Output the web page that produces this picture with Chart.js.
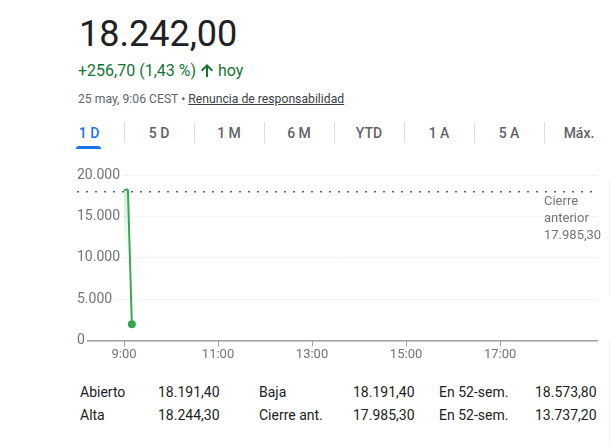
<!DOCTYPE html>
<html lang="es">
<head>
<meta charset="utf-8">
<script src="https://cdn.jsdelivr.net/npm/chart.js@4.4.1/dist/chart.umd.min.js"></script>
<style>
    body { margin: 0; width: 611px; height: 446px; background: #fff; font-family: Roboto, Arial, sans-serif; position: relative; overflow: hidden; }
    .abs { position: absolute; white-space: nowrap; }
    #price { left: 79px; top: 16px; font-size: 36px; line-height: 36px; color: #202124; }
    #change { left: 78px; top: 63px; font-size: 16px; line-height: 16px; color: #137333; }
    #change svg { vertical-align: -1px; margin: 0 5px 0 5px; }
    #date { left: 78px; top: 93px; font-size: 12.2px; line-height: 12px; color: #5f6368; }
    #date u { color: #3c4043; }
    .tab { top: 126px; width: 70px; text-align: center; font-size: 14px; line-height: 14px; font-weight: 500; color: #5f6368; }
    .tab.active { color: #1a73e8; }
    .sep { top: 122px; width: 1px; height: 21px; background: #dadce0; }
    #tabbar { left: 76px; top: 146px; width: 25px; height: 3px; background: #1a73e8; border-radius: 3px 3px 0 0; }
    #chart-wrap { position: absolute; left: 0; top: 160px; width: 611px; height: 210px; }
    #prev { left: 544px; top: 192px; font-size: 13px; line-height: 17px; color: #70757a; }
    .stat { font-size: 14px; line-height: 14px; color: #202124; }
    #edge1 { left: 609px; top: 180px; width: 1px; height: 116px; background: #f1f3f4; }
    #edge2 { left: 609px; top: 340px; width: 1px; height: 106px; background: #f1f3f4; }
</style>
</head>
<body>
<div class="abs" id="price">18.242,00</div>
<div class="abs" id="change">+256,70 (1,43 %)<svg width="12" height="13" viewBox="0 0 12 13"><path d="M6 0 L12 6 L10.6 7.4 L7 3.8 L7 13 L5 13 L5 3.8 L1.4 7.4 L0 6 Z" fill="#137333"/></svg>hoy</div>
<div class="abs" id="date">25 may, 9:06 CEST • <u>Renuncia de responsabilidad</u></div>
<div id="tabs"></div>
<div class="abs" id="tabbar"></div>
<div id="chart-wrap"><canvas id="chart"></canvas></div>
<div class="abs" id="prev">Cierre<br>anterior<br>17.985,30</div>
<div id="stats"></div>
<div class="abs" id="edge1"></div>
<div class="abs" id="edge2"></div>

<script>
// time in minutes since midnight
const times = [540, 542, 544, 545, 550];
const prices = [18191.4, 18230, 18244.3, 18242, 1950];
const previousClose = 17985.30;
const xTicks = [540, 660, 780, 900, 1020];
const yTicks = [0, 5000, 10000, 15000, 20000];
const ranges = ['1 D', '5 D', '1 M', '6 M', 'YTD', '1 A', '5 A', 'Máx.'];
const statLabels = [['Abierto', 'Alta'], ['Baja', 'Cierre ant.'], ['En 52-sem.', 'En 52-sem.']];
const statValues = [['18.191,40', '18.244,30'], ['18.191,40', '17.985,30'], ['18.573,80', '13.737,20']];

const lineGreen = '#34a853';

function buildTabs() {
    const tabs = document.getElementById('tabs');
    ranges.forEach((r, i) => {
        const t = document.createElement('div');
        t.className = 'abs tab' + (i === 0 ? ' active' : '');
        t.style.left = (54 + i * 70) + 'px';
        t.textContent = r;
        tabs.appendChild(t);
        if (i > 0) {
            const s = document.createElement('div');
            s.className = 'abs sep';
            s.style.left = (54 + i * 70) + 'px';
            tabs.appendChild(s);
        }
    });
}

function buildStats() {
    const stats = document.getElementById('stats');
    const labelX = [80, 259, 439];
    const valueX = [158, 353, 535];
    const rowY = [385, 408];
    statLabels.forEach((col, c) => {
        col.forEach((label, r) => {
            const l = document.createElement('div');
            l.className = 'abs stat';
            l.style.left = labelX[c] + 'px';
            l.style.top = rowY[r] + 'px';
            l.textContent = label;
            stats.appendChild(l);
            const v = document.createElement('div');
            v.className = 'abs stat';
            v.style.left = valueX[c] + 'px';
            v.style.top = rowY[r] + 'px';
            v.textContent = statValues[c][r];
            stats.appendChild(v);
        });
    });
}

function fmtTime(m) {
    return Math.floor(m / 60) + ':' + String(m % 60).padStart(2, '0');
}

function fmtThousands(v) {
    return String(v).replace(/\B(?=(\d{3})+$)/g, '.');
}

function fillGradient(context) {
    const {ctx, chartArea} = context.chart;
    if (!chartArea) return 'rgba(52,168,83,0.15)';
    const g = ctx.createLinearGradient(0, chartArea.top, 0, chartArea.top + 80);
    g.addColorStop(0, 'rgba(52,168,83,0.28)');
    g.addColorStop(1, 'rgba(52,168,83,0)');
    return g;
}

buildTabs();
buildStats();

new Chart(document.getElementById('chart'), {
    type: 'line',
    data: {
        datasets: [{
            data: times.map((t, i) => ({x: t, y: prices[i]})),
            borderColor: lineGreen,
            backgroundColor: fillGradient,
            borderWidth: 2,
            tension: 0,
            fill: 'origin',
            pointRadius: times.map((t, i) => i === times.length - 1 ? 4 : 0),
            pointBackgroundColor: lineGreen,
            pointBorderWidth: 0
        }, {
            data: [{x: 480, y: previousClose}, {x: 1145, y: previousClose}],
            borderColor: '#5f6368',
            borderWidth: 1.5,
            borderDash: [2, 7],
            pointRadius: 0,
            fill: false
        }]
    },
    options: {
        responsive: true,
        maintainAspectRatio: false,
        animation: false,
        layout: {padding: {left: 77, right: 13, top: 15, bottom: 6}},
        plugins: {legend: {display: false}, tooltip: {enabled: false}},
        scales: {
            x: {
                type: 'linear',
                min: 480,
                max: 1145,
                afterBuildTicks: scale => { scale.ticks = xTicks.map(v => ({value: v})); },
                grid: {drawOnChartArea: false, drawTicks: true, tickLength: 6, tickColor: '#9aa0a6'},
                border: {display: false},
                ticks: {
                    padding: 1,
                    color: '#70757a',
                    font: {family: 'Roboto', size: 13},
                    maxRotation: 0,
                    callback: v => fmtTime(v)
                }
            },
            y: {
                min: 0,
                max: 20000,
                afterBuildTicks: scale => { scale.ticks = yTicks.map(v => ({value: v})); },
                grid: {
                    drawTicks: false,
                    color: ctx => ctx.tick && ctx.tick.value === 0 ? '#9aa0a6' : '#f1f3f4',
                    lineWidth: ctx => ctx.tick && ctx.tick.value === 0 ? 1.5 : 1
                },
                border: {display: false},
                ticks: {
                    mirror: true,
                    padding: 0,
                    color: '#70757a',
                    font: {family: 'Roboto', size: 14},
                    showLabelBackdrop: true,
                    backdropColor: '#fff',
                    backdropPadding: {top: 0, bottom: 0, left: 0, right: 2},
                    callback: v => fmtThousands(v)
                }
            }
        }
    }
});
</script>
</body>
</html>
